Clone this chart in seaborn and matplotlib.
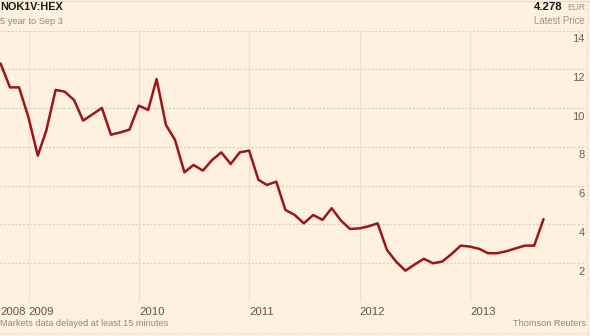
import pandas as pd
import numpy as np
import seaborn as sns
import matplotlib.pyplot as plt
import matplotlib.dates as mdates
import matplotlib.transforms as mtransforms
from matplotlib.lines import Line2D

# monthly closes, Sep 2008 - Aug 2013
prices = [12.3, 11.07, 11.07, 9.53, 7.55, 8.84, 10.94, 10.85, 10.42, 9.36,
          9.68, 10.01, 8.63, 8.75, 8.89, 10.13, 9.91, 11.5, 9.13, 8.36,
          6.69, 7.07, 6.78, 7.33, 7.72, 7.12, 7.72, 7.81, 6.30, 6.04,
          6.21, 4.75, 4.49, 4.06, 4.49, 4.24, 4.84, 4.20, 3.77, 3.80,
          3.91, 4.06, 2.69, 2.09, 1.62, 1.93, 2.23, 2.00, 2.09, 2.48,
          2.91, 2.86, 2.74, 2.52, 2.52, 2.62, 2.77, 2.91, 2.91, 4.278]
dates = pd.date_range('2008-09-30', periods=len(prices), freq='ME')
year_ticks = ['2009', '2010', '2011', '2012', '2013']
y_ticks = [0, 2, 4, 6, 8, 10, 12, 14]

df = pd.DataFrame({'date': dates, 'price': prices})

bg = '#fff1e0'
sns.set_style('white')
plt.rcParams['font.family'] = ['Liberation Sans', 'DejaVu Sans']

fig = plt.figure(figsize=(5.9, 3.36), dpi=100, facecolor=bg)
ax = fig.add_axes([0, 0.101, 0.993, 0.808], facecolor=bg)

x0 = pd.Timestamp('2008-09-28')
x1 = pd.Timestamp('2014-01-18')

# grid
for y in y_ticks:
    ax.axhline(y, color='#d6ccc0', lw=0.9, ls=(0, (1.5, 1.5)), zorder=1)
for yr in year_ticks:
    ax.axvline(pd.Timestamp(yr + '-01-01'), color='#eadfd2', lw=0.9, zorder=1)

sns.lineplot(data=df, x='date', y='price', ax=ax, color='#9c1519', lw=1.8, zorder=3)

ax.set_xlim(x0, x1)
ax.set_ylim(0, 14)
ax.set_xlabel('')
ax.set_ylabel('')
for s in ax.spines.values():
    s.set_visible(False)

# x ticks: labels left-aligned on the year lines
xt = [x0] + [pd.Timestamp(yr + '-01-01') for yr in year_ticks]
ax.set_xticks(xt)
ax.set_xticklabels(['2008'] + year_ticks, fontsize=8.2, color='#5a5651')
ax.tick_params(axis='x', length=0, pad=3.5)
for lab in ax.get_xticklabels():
    lab.set_ha('left')

# y ticks: inside on the right, just under each gridline
ax.yaxis.tick_right()
ax.set_yticks(y_ticks[1:])
ax.set_yticklabels([str(v) for v in y_ticks[1:]], fontsize=8, color='#66625d')
ax.tick_params(axis='y', length=0, pad=-1)
off = mtransforms.ScaledTranslation(0, -2.5 / 72, fig.dpi_scale_trans)
for lab in ax.get_yticklabels():
    lab.set_ha('right')
    lab.set_va('top')
    lab.set_transform(lab.get_transform() + off)

# header and footer
fig.text(0.0, 1 - 7 / 336, 'NOK1V:HEX', fontsize=7.8, fontweight='bold',
         color='#1a1a1a', ha='left', va='center')
fig.text(0.0, 1 - 21 / 336, '5 year to Sep 3', fontsize=6.7, color='#8c8782',
         ha='left', va='center')
fig.text(563 / 590, 1 - 7 / 336, '4.278', fontsize=8.2, fontweight='bold',
         color='#1a1a1a', ha='right', va='center')
fig.text(585 / 590, 1 - 7.5 / 336, 'EUR', fontsize=6.2, color='#9a958f',
         ha='right', va='center')
fig.text(585 / 590, 1 - 21 / 336, 'Latest Price', fontsize=6.9, color='#9a958f',
         ha='right', va='center')
fig.text(0.0, 1 - 323 / 336, 'Markets data delayed at least 15 minutes',
         fontsize=6.6, color='#8c8782', ha='left', va='center')
fig.text(586 / 590, 1 - 323 / 336, 'Thomson Reuters', fontsize=6.6,
         color='#8c8782', ha='right', va='center')

# faint frame of the graphic
fig.add_artist(Line2D([0, 1], [0.998, 0.998], color='#e6d8c8', lw=0.8,
                      transform=fig.transFigure))
fig.add_artist(Line2D([0, 1], [3 / 336, 3 / 336], color='#e6d8c8', lw=0.8,
                      ls=(0, (1.5, 1.5)), transform=fig.transFigure))
fig.add_artist(Line2D([587 / 590, 587 / 590], [0, 1], color='#e6d8c8', lw=0.8,
                      ls=(0, (1.5, 1.5)), transform=fig.transFigure))

fig.savefig('out.png', dpi=100, facecolor=bg)
